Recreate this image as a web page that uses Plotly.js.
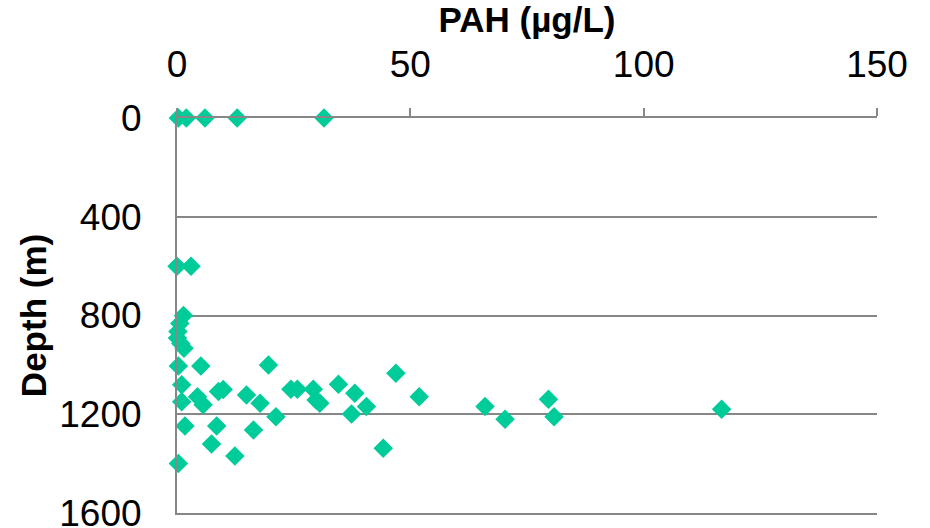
<!DOCTYPE html>
<html>
<head>
<meta charset="utf-8">
<script src="https://cdn.plot.ly/plotly-3.0.1.min.js"></script>
<style>
  html, body { margin: 0; padding: 0; background: #ffffff; }
  #chart { width: 930px; height: 528px; }
</style>
</head>
<body>
<div id="chart"></div>
<script>
// PAH concentration (µg/L) against sampling depth (m)
const pahConc = [
  0.3, 2.0, 6.0, 12.9, 31.5,
  0.0, 3.0,
  1.4, 0.6, 0.2, 0.1, 0.8, 1.5,
  0.3, 5.1, 19.6,
  46.9, 34.6, 1.0,
  24.4, 25.8, 29.2, 9.9, 8.9,
  38.1, 14.9, 51.9, 4.4, 79.6,
  29.8, 1.0, 30.6, 17.8, 5.6,
  40.6, 66.0, 116.7, 37.4,
  21.2, 80.8, 70.3,
  1.7, 8.5, 16.4, 7.4, 44.2, 12.4, 0.3
];
const depthM = [
  0, 0, 0, 0, 0,
  600, 600,
  800, 832, 865, 891, 913, 933,
  1005, 1005, 1000,
  1034, 1078, 1081,
  1099, 1099, 1099, 1100, 1108,
  1115, 1122, 1129, 1129, 1139,
  1142, 1149, 1155, 1155, 1162,
  1169, 1169, 1180, 1199,
  1210, 1210, 1220,
  1248, 1248, 1264, 1320, 1338, 1369, 1399
];
const xTicks = [0, 50, 100, 150];
const yTicks = [0, 400, 800, 1200, 1600];

const axisGrey = '#878787';
const font = 'Liberation Sans, Arial, sans-serif';

const trace = {
  type: 'scatter',
  mode: 'markers',
  x: pahConc,
  y: depthM,
  cliponaxis: false,
  marker: { symbol: 'diamond', size: 15, color: '#00CC99', line: { width: 0 } },
  hoverinfo: 'x+y'
};

const layout = {
  width: 930,
  height: 528,
  margin: { l: 177, r: 53, t: 118, b: 15 },
  paper_bgcolor: '#ffffff',
  plot_bgcolor: '#ffffff',
  showlegend: false,
  font: { family: font, color: '#000000' },
  xaxis: {
    side: 'top',
    range: [0, 150],
    tickvals: xTicks,
    ticktext: xTicks.map(String),
    tickfont: { size: 37, family: font, color: '#000000' },
    ticks: 'outside',
    ticklen: 8,
    tickwidth: 2,
    tickcolor: axisGrey,
    ticklabelstandoff: 16,
    showline: true,
    mirror: true,
    linecolor: axisGrey,
    linewidth: 2,
    showgrid: false,
    zeroline: false,
    title: { text: 'PAH (µg/L)', font: { size: 35, family: font, color: '#000000', weight: 'bold' }, standoff: 2 },
    fixedrange: true
  },
  yaxis: {
    range: [1600, 0],
    tickvals: yTicks,
    ticktext: yTicks.map(String),
    tickfont: { size: 37, family: font, color: '#000000' },
    ticklabeloverflow: 'allow',
    ticks: '',
    ticklabelstandoff: 26,
    showline: true,
    linecolor: axisGrey,
    linewidth: 2,
    showgrid: true,
    gridcolor: axisGrey,
    gridwidth: 2,
    zeroline: false,
    title: { text: 'Depth (m)', font: { size: 35, family: font, color: '#000000', weight: 'bold' }, standoff: 2 },
    fixedrange: true
  }
};

Plotly.newPlot('chart', [trace], layout, { displayModeBar: false, staticPlot: true });
</script>
</body>
</html>
